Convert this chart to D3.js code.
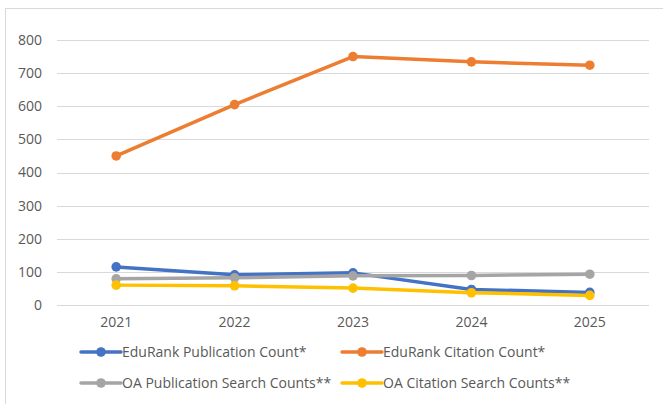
<!DOCTYPE html>
<html>
<head>
<meta charset="utf-8">
<script src="https://cdn.jsdelivr.net/npm/d3@7/dist/d3.min.js"></script>
<style>
  html, body { margin: 0; padding: 0; background: #fff; }
  svg { display: block; }
  text { font-family: "Open Sans", "Liberation Sans", sans-serif; fill: #595959; }
</style>
</head>
<body>
<svg id="chart" width="663" height="404"></svg>
<script>
const years = ["2021", "2022", "2023", "2024", "2025"];
const yTicks = [0, 100, 200, 300, 400, 500, 600, 700, 800];
const seriesNames = [
  "EduRank Publication Count*",
  "EduRank Citation Count*",
  "OA Publication Search Counts**",
  "OA Citation Search Counts**"
];
const eduRankPublications = [115, 91, 97, 47, 38];
const eduRankCitations = [450, 605, 750, 734, 724];
const oaPublications = [79, 82, 88, 89, 93];
const oaCitations = [60, 58, 51, 37, 29];
const seriesColors = ["#4472C4", "#ED7D31", "#A5A5A5", "#FFC000"];

const seriesValues = [eduRankPublications, eduRankCitations, oaPublications, oaCitations];

const svg = d3.select("#chart");

// outer chart border
svg.append("rect")
  .attr("x", 5.5).attr("y", 8.5)
  .attr("width", 700).attr("height", 420)
  .attr("fill", "none").attr("stroke", "#D9D9D9").attr("stroke-width", 1);

const plot = { left: 57, right: 649, top: 40, bottom: 305 };

const x = d3.scaleBand().domain(years).range([plot.left, plot.right]).padding(0);
const y = d3.scaleLinear().domain([0, 800]).range([plot.bottom, plot.top]);

// gridlines
svg.append("g").selectAll("line").data(yTicks).join("line")
  .attr("x1", plot.left).attr("x2", plot.right)
  .attr("y1", d => Math.round(y(d)) + 0.5).attr("y2", d => Math.round(y(d)) + 0.5)
  .attr("stroke", "#D9D9D9").attr("stroke-width", 1);

// y axis labels
const yAxis = d3.axisLeft(y).tickValues(yTicks).tickSize(0).tickPadding(0);
const yg = svg.append("g").attr("transform", `translate(${plot.left - 15},0)`).call(yAxis);
yg.select(".domain").remove();
yg.selectAll("text").attr("font-size", "14px").attr("fill", "#595959")
  .style("font-family", "'Open Sans', sans-serif");

// x axis labels
const xAxis = d3.axisBottom(x).tickSize(0).tickPadding(0);
const xg = svg.append("g").attr("transform", `translate(0,${plot.bottom + 12})`).call(xAxis);
xg.select(".domain").remove();
xg.selectAll("text").attr("font-size", "14px").attr("fill", "#595959")
  .style("font-family", "'Open Sans', sans-serif");

const cx = d => x(d) + x.bandwidth() / 2;

const line = d3.line().x((d, i) => cx(years[i])).y(d => y(d));

// draw series in order
seriesValues.forEach((vals, si) => {
  const g = svg.append("g");
  g.append("path")
    .datum(vals)
    .attr("d", line)
    .attr("fill", "none")
    .attr("stroke", seriesColors[si])
    .attr("stroke-width", 3.5)
    .attr("stroke-linejoin", "round")
    .attr("stroke-linecap", "round");
  g.selectAll("circle").data(vals).join("circle")
    .attr("cx", (d, i) => cx(years[i]))
    .attr("cy", d => y(d))
    .attr("r", 4.8)
    .attr("fill", seriesColors[si]);
});

// legend
const legendPos = [
  { lx: 81, ty: 352 },
  { lx: 342, ty: 352 },
  { lx: 81, ty: 383 },
  { lx: 342, ty: 383 }
];
const legend = svg.append("g");
seriesNames.forEach((name, i) => {
  const p = legendPos[i];
  const g = legend.append("g");
  g.append("line")
    .attr("x1", p.lx).attr("x2", p.lx + 40)
    .attr("y1", p.ty).attr("y2", p.ty)
    .attr("stroke", seriesColors[i]).attr("stroke-width", 3.5)
    .attr("stroke-linecap", "round");
  g.append("circle")
    .attr("cx", p.lx + 20).attr("cy", p.ty).attr("r", 4.8)
    .attr("fill", seriesColors[i]);
  g.append("text")
    .attr("x", p.lx + 41).attr("y", p.ty)
    .attr("dy", "0.35em")
    .attr("font-size", "14px")
    .text(name);
});
</script>
</body>
</html>
